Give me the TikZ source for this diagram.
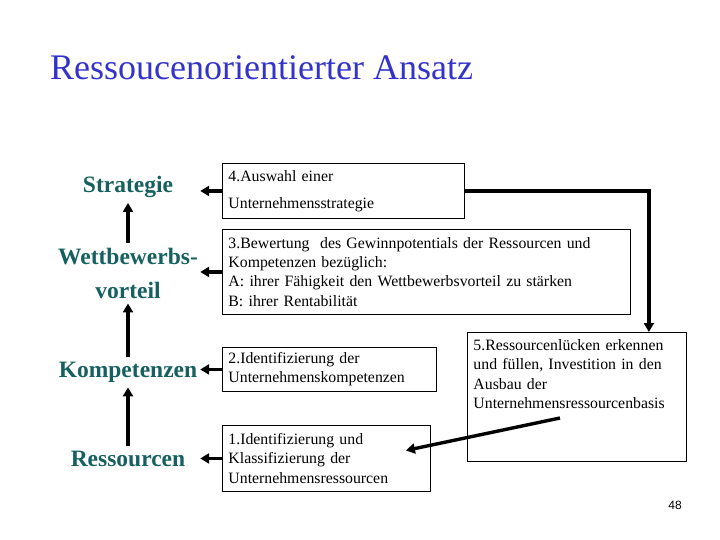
\documentclass[tikz,border=0pt]{standalone}
\usepackage{fontspec}
\setmainfont{Liberation Serif}
\newfontfamily\rbsans{Liberation Sans}
\usetikzlibrary{arrows.meta,positioning}
\definecolor{rbblue}{RGB}{51,51,204}
\definecolor{rbteal}{RGB}{22,96,96}
\tikzset{
  rbbox/.style={draw, line width=.9pt, anchor=north west, align=left, inner xsep=6pt, inner ysep=4pt, font=\fontsize{15.8}{19.3}\selectfont},
  rblabel/.style={text=rbteal, align=center, minimum width=144pt, inner xsep=0pt, inner ysep=5pt, font=\fontsize{23.5}{34}\selectfont\bfseries},
  rbarr/.style={-{Triangle[length=9pt,width=10pt]}, line width=3.4pt}
}
\begin{document}
\begin{tikzpicture}[x=1pt, y=-1pt]
  \useasboundingbox (0,0) rectangle (720,540);
  \node[anchor=base west, text=rbblue, font=\fontsize{36}{40}\selectfont, inner sep=0pt] (title) at (50,80) {Ressoucenorientierter Ansatz};
  % Schritte
  \node[rbbox, text width=230pt, minimum height=55pt] (auswahl) at (222,163) {4.Auswahl einer\\[8pt]Unternehmensstrategie};
  \node[rbbox, text width=396pt, minimum height=85pt] (bewertung) at (222,229) {3.Bewertung\ \ des Gewinnpotentials der Ressourcen und\\Kompetenzen bezüglich:\\A: ihrer Fähigkeit den Wettbewerbsvorteil zu stärken\\B: ihrer Rentabilität};
  \node[rbbox, text width=202pt, minimum height=44pt] (identkomp) at (222,347) {2.Identifizierung der\\Unternehmenskompetenzen};
  \node[rbbox, text width=196pt, minimum height=66pt] (identres) at (222,425) {1.Identifizierung und\\Klassifizierung der\\Unternehmensressourcen};
  \node[rbbox, text width=207pt, inner ysep=7pt, text depth=104pt] (luecken) at (467,332) {5.Ressourcenlücken erkennen\\und füllen, Investition in den\\Ausbau der\\Unternehmensressourcenbasis};
  % Ebenen
  \node[rblabel] (strategie) at (128,187) {Strategie};
  \node[rblabel] (vorteil) at (128,273) {Wettbewerbs-\\vorteil};
  \node[rblabel] (kompetenz) at (128,372) {Kompetenzen};
  \node[rblabel] (ressourcen) at (128,459) {Ressourcen};
  \foreach \s/\e in {auswahl/strategie,bewertung/vorteil,identkomp/kompetenz,identres/ressourcen} {
    \draw[rbarr] (\s.west) -- (\s.west -| \e.east);
  }
  \draw[rbarr] (vorteil.north) -- (strategie.south);
  \draw[rbarr] (kompetenz.north) -- (vorteil.south);
  \draw[rbarr] (ressourcen.north) -- (kompetenz.south);
  \draw[rbarr] (auswahl.east) -| ([xshift=-38pt]luecken.north east);
  \coordinate (luecke) at (560,418);
  \draw[rbarr] (luecke) -- ([xshift=-25pt,yshift=8pt]identres.east);
  \node[font=\rbsans\fontsize{12}{14}\selectfont] (seite) at (675,505) {48};
\end{tikzpicture}
\end{document}
